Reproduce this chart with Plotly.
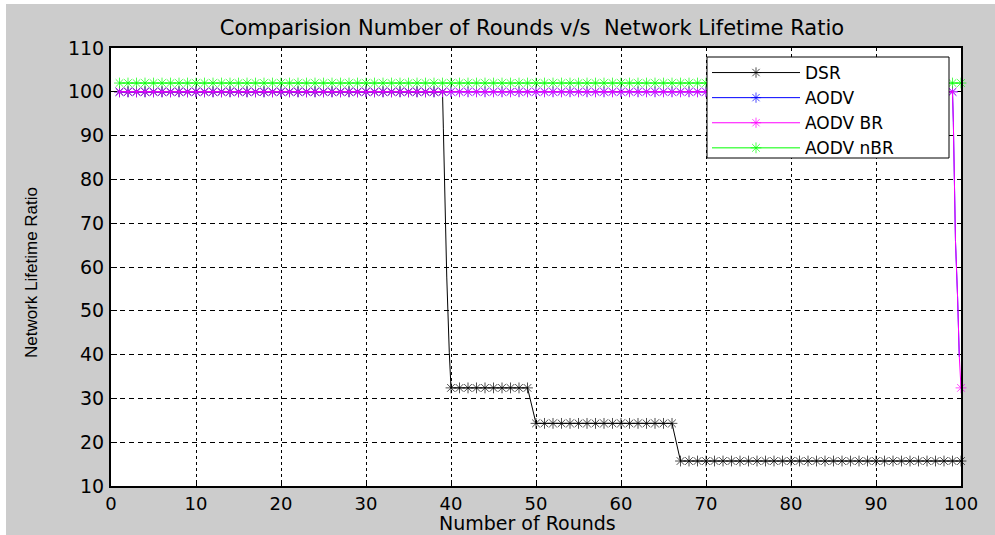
import plotly.graph_objects as go

# ---------------- data ----------------
rounds = list(range(1, 101))

dsr_x = list(range(1, 40)) + [39.1, 39.3, 39.5, 39.8] + list(range(40, 101))
dsr_y = ([100.0] * 39 + [91.7, 74.6, 57.7, 40.4]
         + [32.4] * 10 + [24.3] * 17 + [15.7] * 34)

aodv_x = list(range(1, 100)) + [99.1, 99.2, 99.35, 99.6, 99.8]
aodv_y = [100.0] * 99 + [93.0, 80.0, 66.0, 53.0, 39.5]

aodv_br_x = list(range(1, 100)) + [99.1, 99.2, 99.35, 99.6, 99.8, 100]
aodv_br_y = [100.0] * 99 + [93.0, 80.0, 66.0, 53.0, 39.5, 32.4]

aodv_nbr_x = rounds
aodv_nbr_y = [102.0] * 100

series_names = ["DSR", "AODV", "AODV BR", "AODV nBR"]
series_colors = ["#000000", "#0000ff", "#ff00ff", "#00ff00"]

x_ticks = list(range(0, 101, 10))
y_ticks = list(range(10, 111, 10))

title_text = "Comparision Number of Rounds v/s  Network Lifetime Ratio"
x_title = "Number of Rounds"
y_title = "Network Lifetime Ratio"

# ---------------- figure ----------------
W, H = 995, 535
L, R, T, B = 111, 961, 48, 486
pw, ph = R - L, B - T


def px_x(p):
    return (p - L) / pw


def px_y(p):
    return (B - p) / ph


fig = go.Figure()
all_series = [(dsr_x, dsr_y), (aodv_x, aodv_y), (aodv_br_x, aodv_br_y),
              (aodv_nbr_x, aodv_nbr_y)]
for (xs, ys), name, col in zip(all_series, series_names, series_colors):
    sizes = [9 if float(v).is_integer() else 0 for v in xs]
    fig.add_trace(go.Scatter(
        x=xs, y=ys, name=name, mode="lines+markers",
        line=dict(color=col, width=1),
        marker=dict(symbol="asterisk-open", size=sizes, color=col,
                    line=dict(color=col, width=1)),
        cliponaxis=False,
    ))

font_main = "DejaVu Sans, Arial, sans-serif"

fig.update_layout(
    width=W, height=H,
    margin=dict(l=L, r=W - R, t=T, b=H - B, autoexpand=False),
    paper_bgcolor="#cccccc",
    plot_bgcolor="#ffffff",
    font=dict(family=font_main, size=18, color="#000000"),
    showlegend=True,
    title=dict(text=title_text, xref="paper", x=px_x(532), xanchor="center",
               yref="container", y=1 - 28 / H, yanchor="middle",
               font=dict(family=font_main, size=21, color="#000000")),
    legend=dict(x=px_x(707), y=px_y(55), xanchor="left", yanchor="top",
                bgcolor="rgba(0,0,0,0)", borderwidth=0,
                font=dict(family=font_main, size=17, color="#000000"),
                itemwidth=88, tracegroupgap=0),
)

grid_common = dict(showgrid=True, gridcolor="#000000", gridwidth=1,
                   showline=True, linecolor="#000000", linewidth=2,
                   mirror=True, ticks="inside", ticklen=6,
                   tickcolor="#000000", zeroline=False, layer="above traces")

fig.update_xaxes(range=[0, 100], tickvals=x_ticks,
                 ticktext=[str(v) for v in x_ticks],
                 griddash="3px,3px", ticklabelstandoff=0,
                 tickfont=dict(family=font_main, size=18), **grid_common)
fig.update_yaxes(range=[10, 110], tickvals=y_ticks,
                 ticktext=[str(v) for v in y_ticks],
                 griddash="5px,4px", ticklabelstandoff=1,
                 tickfont=dict(family=font_main, size=19), **grid_common)

fig.add_annotation(text=x_title, xref="paper", yref="paper",
                   x=px_x(527), y=px_y(523), xanchor="center", yanchor="middle",
                   showarrow=False,
                   font=dict(family=font_main, size=19, color="#000000"))
fig.add_annotation(text=y_title, xref="paper", yref="paper",
                   x=px_x(31), y=px_y(273), xanchor="center", yanchor="middle",
                   textangle=-90, showarrow=False,
                   font=dict(family="Liberation Sans, Arial, sans-serif",
                             size=17, color="#000000"))

# legend frame (white box with black border, as in the reference)
fig.add_shape(type="rect", xref="paper", yref="paper",
              x0=px_x(707), x1=px_x(949), y0=px_y(158), y1=px_y(57),
              fillcolor="#ffffff", line=dict(color="#000000", width=1),
              layer="above")

# white border strips of the screenshot
fig.add_shape(type="rect", xref="paper", yref="paper",
              x0=px_x(0), x1=px_x(6), y0=px_y(H), y1=px_y(0),
              fillcolor="#ffffff", line=dict(width=0), layer="below")
fig.add_shape(type="rect", xref="paper", yref="paper",
              x0=px_x(0), x1=px_x(W), y0=px_y(4), y1=px_y(0),
              fillcolor="#ffffff", line=dict(width=0), layer="below")

fig.write_html("out.html", config={"displayModeBar": False},
               post_script="document.body.style.margin='0px';"
                           "document.body.style.padding='0px';")
